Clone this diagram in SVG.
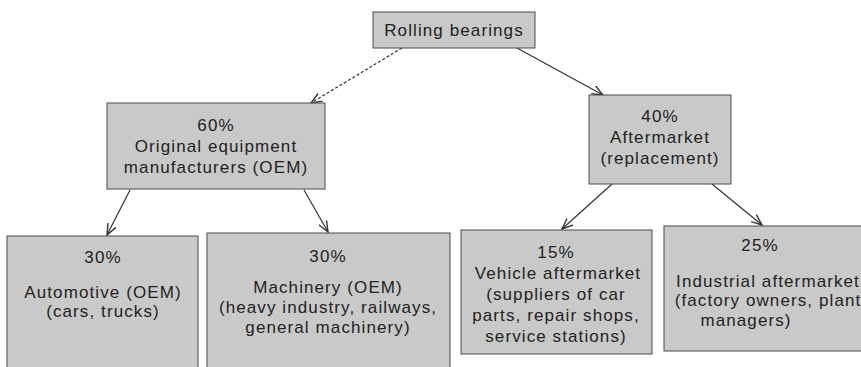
<svg xmlns="http://www.w3.org/2000/svg" width="861" height="367" viewBox="0 0 861 367">
  <defs>
    <marker id="arr" viewBox="0 0 12 10" refX="11" refY="5" markerWidth="12" markerHeight="10" markerUnits="userSpaceOnUse" orient="auto">
      <path d="M0,0.5 L11,5 L0,9.5" fill="none" stroke="#333" stroke-width="1.4"/>
    </marker>
  </defs>
  <style>
    .box { fill: #c9c9c9; stroke: #4a4a4a; stroke-width: 1; }
    .t { font-family: "Liberation Sans", Arial, sans-serif; font-size: 17px; letter-spacing: 1.1px; fill: #222; text-anchor: middle; }
    .c { fill: none; stroke: #333; stroke-width: 1.2; marker-end: url(#arr); }
  </style>
  <rect width="861" height="367" fill="#ffffff"/>

  <g id="connectors">
    <line class="c" x1="402" y1="48" x2="311" y2="103" stroke-dasharray="3 2"/>
    <line class="c" x1="517" y1="48" x2="603" y2="95"/>
    <line class="c" x1="130" y1="190" x2="107" y2="235"/>
    <line class="c" x1="304" y1="190" x2="328" y2="232"/>
    <line class="c" x1="612" y1="184" x2="562" y2="229"/>
    <line class="c" x1="712" y1="184" x2="762" y2="225"/>
  </g>

  <g id="rolling-bearings">
    <rect class="box" x="373" y="12" width="162" height="36"/>
    <text class="t" x="454" y="36">Rolling bearings</text>
  </g>

  <g id="oem">
    <rect class="box" x="107" y="103" width="218" height="86"/>
    <text class="t" x="216" y="131">60%</text>
    <text class="t" x="216" y="152">Original equipment</text>
    <text class="t" x="216" y="173">manufacturers (OEM)</text>
  </g>

  <g id="aftermarket">
    <rect class="box" x="589" y="95" width="142" height="89"/>
    <text class="t" x="660" y="122">40%</text>
    <text class="t" x="660" y="143">Aftermarket</text>
    <text class="t" x="660" y="164">(replacement)</text>
  </g>

  <g id="automotive">
    <rect class="box" x="7" y="236" width="191" height="140"/>
    <text class="t" x="103" y="263">30%</text>
    <text class="t" x="103" y="298">Automotive (OEM)</text>
    <text class="t" x="103" y="317">(cars, trucks)</text>
  </g>

  <g id="machinery">
    <rect class="box" x="207" y="233" width="243" height="143"/>
    <text class="t" x="328" y="262">30%</text>
    <text class="t" x="328" y="293">Machinery (OEM)</text>
    <text class="t" x="328" y="313">(heavy industry, railways,</text>
    <text class="t" x="328" y="333">general machinery)</text>
  </g>

  <g id="vehicle-aftermarket">
    <rect class="box" x="461" y="230" width="191" height="124"/>
    <text class="t" x="556" y="258">15%</text>
    <text class="t" x="558" y="279">Vehicle aftermarket</text>
    <text class="t" x="556" y="300">(suppliers of car</text>
    <text class="t" x="556" y="321">parts, repair shops,</text>
    <text class="t" x="556" y="342">service stations)</text>
  </g>

  <g id="industrial-aftermarket">
    <rect class="box" x="664" y="226" width="222" height="125"/>
    <text class="t" x="760" y="251">25%</text>
    <text class="t" x="768" y="287">Industrial aftermarket</text>
    <text class="t" x="768" y="306">(factory owners, plant</text>
    <text class="t" x="746" y="326">managers)</text>
  </g>
</svg>
